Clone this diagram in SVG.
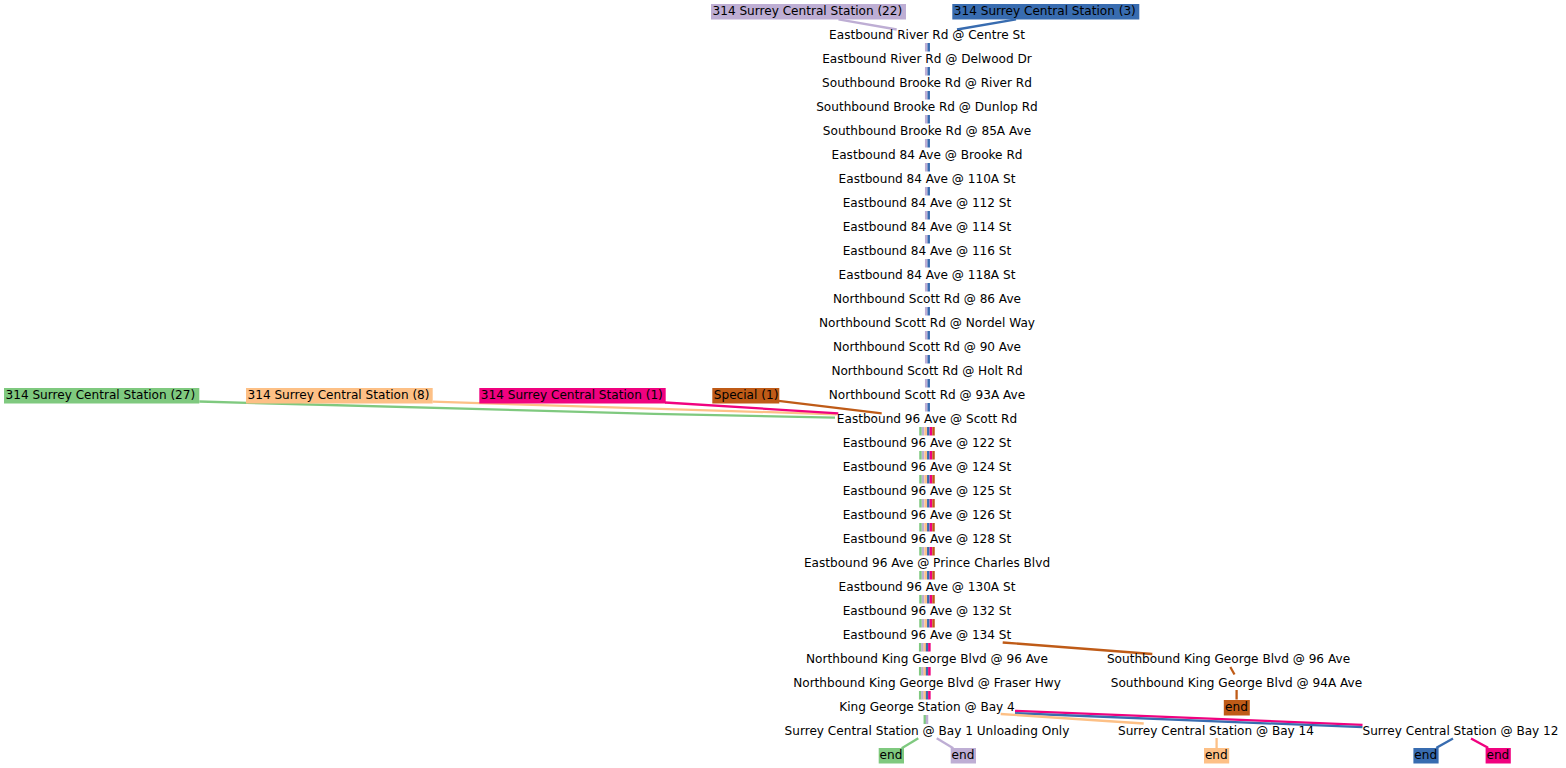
<svg xmlns="http://www.w3.org/2000/svg" width="1566" height="768" viewBox="0 0 1566 768">
<style>
text{font-family:"DejaVu Sans",sans-serif;font-size:12.1px;fill:#000}
.m{text-anchor:middle}
.e{fill:none;stroke-width:2.3}
.b{fill:none;stroke-width:2.5}
.G{stroke:#7fc97f}.P{stroke:#beaed4}.O{stroke:#fdc086}.B{stroke:#386cb0}.K{stroke:#f0027f}.R{stroke:#bf5b17}
.g{fill:#7fc97f}.p{fill:#beaed4}.o{fill:#fdc086}.bl{fill:#386cb0}.k{fill:#f0027f}.r{fill:#bf5b17}
</style>
<rect width="1566" height="768" fill="#fff"/>
<g id="connectors">
<path class="e P" d="M838.5,19.3L896.7,29.5"/>
<path class="e B" d="M1016,19.3L957,29.5"/>
<path class="e G" d="M199.3,401.5C300,406 600,413 835,417.6"/>
<path class="e O" d="M432.7,401.7L836.7,414.3"/>
<path class="e K" d="M665,402.5L838.3,413.3"/>
<path class="e R" d="M778.5,400.8L881.7,413.3"/>
<path class="e R" d="M1002.7,642.5L1152.3,654"/>
<path class="e R" d="M1230.3,667L1234.5,674.5"/>
<path class="e R" d="M1236.6,690V699.5"/>
<path class="e K" d="M1015,710.8L1362.5,724.8"/>
<path class="e B" d="M1015,713.2L1362.5,727.2"/>
<path class="e O" d="M1000.7,714L1143.7,723.5"/>
<path class="e O" d="M1216.6,738V748"/>
<path class="e B" d="M1453,738.5L1437,747.5L1436.5,748"/>
<path class="e K" d="M1471,738.5L1487.5,747.5L1488,748"/>
<path class="e G" d="M918.3,738.3L901.7,748.3"/>
<path class="e P" d="M936.7,738.3L953.3,748.3"/>
<path class="b P" d="M926.2,43v8.5m0,15.5v8.5m0,15.5v8.5m0,15.5v8.5m0,15.5v8.5m0,15.5v8.5m0,15.5v8.5m0,15.5v8.5m0,15.5v8.5m0,15.5v8.5m0,15.5v8.5m0,15.5v8.5m0,15.5v8.5m0,15.5v8.5m0,15.5v8.5m0,15.5v8.5"/>
<path class="b B" d="M928.7,43v8.5m0,15.5v8.5m0,15.5v8.5m0,15.5v8.5m0,15.5v8.5m0,15.5v8.5m0,15.5v8.5m0,15.5v8.5m0,15.5v8.5m0,15.5v8.5m0,15.5v8.5m0,15.5v8.5m0,15.5v8.5m0,15.5v8.5m0,15.5v8.5m0,15.5v8.5"/>
<path class="b G" d="M920.5,427v8.5m0,15.5v8.5m0,15.5v8.5m0,15.5v8.5m0,15.5v8.5m0,15.5v8.5m0,15.5v8.5m0,15.5v8.5m0,15.5v8.5"/>
<path class="b P" d="M923.1,427v8.5m0,15.5v8.5m0,15.5v8.5m0,15.5v8.5m0,15.5v8.5m0,15.5v8.5m0,15.5v8.5m0,15.5v8.5m0,15.5v8.5"/>
<path class="b O" d="M925.7,427v8.5m0,15.5v8.5m0,15.5v8.5m0,15.5v8.5m0,15.5v8.5m0,15.5v8.5m0,15.5v8.5m0,15.5v8.5m0,15.5v8.5"/>
<path class="b B" d="M928.3,427v8.5m0,15.5v8.5m0,15.5v8.5m0,15.5v8.5m0,15.5v8.5m0,15.5v8.5m0,15.5v8.5m0,15.5v8.5m0,15.5v8.5"/>
<path class="b K" d="M930.9,427v8.5m0,15.5v8.5m0,15.5v8.5m0,15.5v8.5m0,15.5v8.5m0,15.5v8.5m0,15.5v8.5m0,15.5v8.5m0,15.5v8.5"/>
<path class="b R" d="M933.5,427v8.5m0,15.5v8.5m0,15.5v8.5m0,15.5v8.5m0,15.5v8.5m0,15.5v8.5m0,15.5v8.5m0,15.5v8.5m0,15.5v8.5"/>
<path class="b G" d="M920.2,643v8.5m0,15.5v8.5m0,15.5v8.5"/>
<path class="b P" d="M922.5,643v8.5m0,15.5v8.5m0,15.5v8.5"/>
<path class="b O" d="M924.8,643v8.5m0,15.5v8.5m0,15.5v8.5"/>
<path class="b B" d="M927.1,643v8.5m0,15.5v8.5m0,15.5v8.5"/>
<path class="b K" d="M929.4,643v8.5m0,15.5v8.5m0,15.5v8.5"/>
<path class="b G" d="M924.8,715v9"/>
<path class="b P" d="M927,715v9"/>
</g>
<g id="n_lbl22"><rect class="p" x="711" y="4" width="195" height="15.5"/><text x="712.5" y="15">314 Surrey Central Station (22)</text></g>
<g id="n_lbl3"><rect class="bl" x="952.3" y="4" width="187" height="15.5"/><text x="953.8" y="15">314 Surrey Central Station (3)</text></g>
<g id="n_lbl27"><rect class="g" x="4" y="388" width="195.3" height="15.5"/><text x="5.5" y="399">314 Surrey Central Station (27)</text></g>
<g id="n_lbl8"><rect class="o" x="246" y="388" width="186.7" height="15.5"/><text x="247.5" y="399">314 Surrey Central Station (8)</text></g>
<g id="n_lbl1"><rect class="k" x="479.3" y="388" width="186.4" height="15.5"/><text x="480.8" y="399">314 Surrey Central Station (1)</text></g>
<g id="n_special"><rect class="r" x="712.3" y="388" width="67" height="15.5"/><text x="713.8" y="399">Special (1)</text></g>
<g id="n1"><text class="m" x="927" y="39">Eastbound River Rd @ Centre St</text></g>
<g id="n2"><text class="m" x="927" y="63">Eastbound River Rd @ Delwood Dr</text></g>
<g id="n3"><text class="m" x="927" y="87">Southbound Brooke Rd @ River Rd</text></g>
<g id="n4"><text class="m" x="927" y="111">Southbound Brooke Rd @ Dunlop Rd</text></g>
<g id="n5"><text class="m" x="927" y="135">Southbound Brooke Rd @ 85A Ave</text></g>
<g id="n6"><text class="m" x="927" y="159">Eastbound 84 Ave @ Brooke Rd</text></g>
<g id="n7"><text class="m" x="927" y="183">Eastbound 84 Ave @ 110A St</text></g>
<g id="n8"><text class="m" x="927" y="207">Eastbound 84 Ave @ 112 St</text></g>
<g id="n9"><text class="m" x="927" y="231">Eastbound 84 Ave @ 114 St</text></g>
<g id="n10"><text class="m" x="927" y="255">Eastbound 84 Ave @ 116 St</text></g>
<g id="n11"><text class="m" x="927" y="279">Eastbound 84 Ave @ 118A St</text></g>
<g id="n12"><text class="m" x="927" y="303">Northbound Scott Rd @ 86 Ave</text></g>
<g id="n13"><text class="m" x="927" y="327">Northbound Scott Rd @ Nordel Way</text></g>
<g id="n14"><text class="m" x="927" y="351">Northbound Scott Rd @ 90 Ave</text></g>
<g id="n15"><text class="m" x="927" y="375">Northbound Scott Rd @ Holt Rd</text></g>
<g id="n16"><text class="m" x="927" y="399">Northbound Scott Rd @ 93A Ave</text></g>
<g id="n17"><text class="m" x="927" y="423">Eastbound 96 Ave @ Scott Rd</text></g>
<g id="n18"><text class="m" x="927" y="447">Eastbound 96 Ave @ 122 St</text></g>
<g id="n19"><text class="m" x="927" y="471">Eastbound 96 Ave @ 124 St</text></g>
<g id="n20"><text class="m" x="927" y="495">Eastbound 96 Ave @ 125 St</text></g>
<g id="n21"><text class="m" x="927" y="519">Eastbound 96 Ave @ 126 St</text></g>
<g id="n22"><text class="m" x="927" y="543">Eastbound 96 Ave @ 128 St</text></g>
<g id="n23"><text class="m" x="927" y="567">Eastbound 96 Ave @ Prince Charles Blvd</text></g>
<g id="n24"><text class="m" x="927" y="591">Eastbound 96 Ave @ 130A St</text></g>
<g id="n25"><text class="m" x="927" y="615">Eastbound 96 Ave @ 132 St</text></g>
<g id="n26"><text class="m" x="927" y="639">Eastbound 96 Ave @ 134 St</text></g>
<g id="n27"><text class="m" x="927" y="663">Northbound King George Blvd @ 96 Ave</text></g>
<g id="n28"><text class="m" x="927" y="687">Northbound King George Blvd @ Fraser Hwy</text></g>
<g id="n29"><text class="m" x="927" y="711">King George Station @ Bay 4</text></g>
<g id="n30"><text class="m" x="927" y="735">Surrey Central Station @ Bay 1 Unloading Only</text></g>
<g id="s27"><text class="m" x="1228.5" y="663">Southbound King George Blvd @ 96 Ave</text></g>
<g id="s28"><text class="m" x="1236.5" y="687">Southbound King George Blvd @ 94A Ave</text></g>
<g id="s30a"><text class="m" x="1216" y="735">Surrey Central Station @ Bay 14</text></g>
<g id="s30b"><text class="m" x="1460.5" y="735">Surrey Central Station @ Bay 12</text></g>
<g id="end_brown"><rect class="r" x="1223.8" y="700" width="26" height="15.5"/><text class="m" x="1236.5" y="711">end</text></g>
<g id="end_green"><rect class="g" x="878.7" y="748" width="25.3" height="15.5"/><text class="m" x="891" y="759">end</text></g>
<g id="end_purple"><rect class="p" x="950.7" y="748" width="25.3" height="15.5"/><text class="m" x="963" y="759">end</text></g>
<g id="end_orange"><rect class="o" x="1204" y="748" width="25.2" height="15.5"/><text class="m" x="1216.3" y="759">end</text></g>
<g id="end_blue"><rect class="bl" x="1413.4" y="748" width="25.2" height="15.5"/><text class="m" x="1425.7" y="759">end</text></g>
<g id="end_pink"><rect class="k" x="1485.6" y="748" width="25.2" height="15.5"/><text class="m" x="1497.9" y="759">end</text></g>
</svg>
